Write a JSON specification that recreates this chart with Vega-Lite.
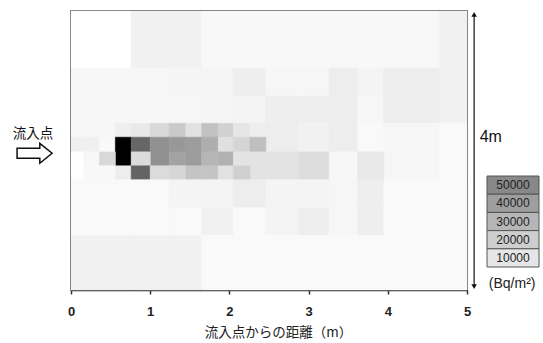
{
  "$schema": "https://vega.github.io/schema/vega-lite/v6.json",
  "width": 396,
  "height": 279,
  "autosize": {"type": "none"},
  "padding": {"left": 71, "top": 11, "right": 76, "bottom": 53},
  "background": "white",
  "config": {"view": {"stroke": "#222", "strokeWidth": 1.5}, "font": "Liberation Sans"},
  "layer": [
    {
      "layer": [
        {
          "data": {"values": [
            {"x1": 0, "x2": 0.76, "y1": 3.18, "y2": 4, "v": 0},
            {"x1": 0.76, "x2": 1.65, "y1": 3.18, "y2": 4, "v": 5400},
            {"x1": 1.65, "x2": 4.65, "y1": 3.18, "y2": 4, "v": 2700},
            {"x1": 4.65, "x2": 5, "y1": 2.39, "y2": 4, "v": 5400},
            {"x1": 0, "x2": 1.24, "y1": 2.39, "y2": 3.18, "v": 3200},
            {"x1": 1.24, "x2": 1.65, "y1": 2.78, "y2": 3.18, "v": 4100},
            {"x1": 1.24, "x2": 1.65, "y1": 2.39, "y2": 2.78, "v": 3600},
            {"x1": 1.65, "x2": 2.05, "y1": 2.78, "y2": 3.18, "v": 4100},
            {"x1": 1.65, "x2": 2.05, "y1": 2.39, "y2": 2.78, "v": 4100},
            {"x1": 2.05, "x2": 2.46, "y1": 2.78, "y2": 3.18, "v": 6800},
            {"x1": 2.05, "x2": 2.46, "y1": 2.39, "y2": 2.78, "v": 4500},
            {"x1": 2.46, "x2": 2.87, "y1": 2.78, "y2": 3.18, "v": 3600},
            {"x1": 2.46, "x2": 2.87, "y1": 2.39, "y2": 2.78, "v": 6800},
            {"x1": 2.87, "x2": 3.26, "y1": 2.78, "y2": 3.18, "v": 3600},
            {"x1": 2.87, "x2": 3.26, "y1": 2.39, "y2": 2.78, "v": 6800},
            {"x1": 3.26, "x2": 3.62, "y1": 2.78, "y2": 3.18, "v": 7200},
            {"x1": 3.26, "x2": 3.62, "y1": 2.39, "y2": 2.78, "v": 7200},
            {"x1": 3.62, "x2": 3.95, "y1": 2.78, "y2": 3.18, "v": 4500},
            {"x1": 3.62, "x2": 3.95, "y1": 2.39, "y2": 2.78, "v": 3600},
            {"x1": 3.95, "x2": 4.65, "y1": 2.39, "y2": 3.18, "v": 7200},
            {"x1": 0, "x2": 0.56, "y1": 2.19, "y2": 2.39, "v": 3200},
            {"x1": 0.56, "x2": 0.76, "y1": 2.19, "y2": 2.39, "v": 6800},
            {"x1": 0.76, "x2": 1.0, "y1": 2.19, "y2": 2.39, "v": 8600},
            {"x1": 1.0, "x2": 1.24, "y1": 2.19, "y2": 2.39, "v": 15800},
            {"x1": 1.24, "x2": 1.45, "y1": 2.19, "y2": 2.39, "v": 21600},
            {"x1": 1.45, "x2": 1.65, "y1": 2.19, "y2": 2.39, "v": 11700},
            {"x1": 1.65, "x2": 1.86, "y1": 2.19, "y2": 2.39, "v": 24800},
            {"x1": 1.86, "x2": 2.05, "y1": 2.19, "y2": 2.39, "v": 18500},
            {"x1": 2.05, "x2": 2.26, "y1": 2.19, "y2": 2.39, "v": 9900},
            {"x1": 2.26, "x2": 2.46, "y1": 2.19, "y2": 2.39, "v": 6800},
            {"x1": 2.46, "x2": 2.87, "y1": 1.98, "y2": 2.39, "v": 7200},
            {"x1": 2.87, "x2": 3.26, "y1": 1.98, "y2": 2.39, "v": 5400},
            {"x1": 3.26, "x2": 3.62, "y1": 1.98, "y2": 2.39, "v": 7200},
            {"x1": 3.62, "x2": 3.95, "y1": 1.98, "y2": 2.39, "v": 2300},
            {"x1": 3.95, "x2": 4.65, "y1": 1.58, "y2": 2.39, "v": 3600},
            {"x1": 4.65, "x2": 5, "y1": 1.58, "y2": 2.39, "v": 2300},
            {"x1": 0, "x2": 0.16, "y1": 1.98, "y2": 2.19, "v": 5900},
            {"x1": 0.16, "x2": 0.36, "y1": 1.98, "y2": 2.19, "v": 5900},
            {"x1": 0.36, "x2": 0.56, "y1": 1.98, "y2": 2.19, "v": 2300},
            {"x1": 0.56, "x2": 0.76, "y1": 1.78, "y2": 2.19, "v": 115000},
            {"x1": 0.76, "x2": 1.0, "y1": 1.98, "y2": 2.19, "v": 65400},
            {"x1": 1.0, "x2": 1.24, "y1": 1.78, "y2": 2.19, "v": 46000},
            {"x1": 1.24, "x2": 1.45, "y1": 1.98, "y2": 2.19, "v": 42800},
            {"x1": 1.45, "x2": 1.65, "y1": 1.98, "y2": 2.19, "v": 41000},
            {"x1": 1.65, "x2": 1.86, "y1": 1.98, "y2": 2.19, "v": 33400},
            {"x1": 1.86, "x2": 2.05, "y1": 1.98, "y2": 2.19, "v": 12600},
            {"x1": 2.05, "x2": 2.26, "y1": 1.98, "y2": 2.19, "v": 17100},
            {"x1": 2.26, "x2": 2.46, "y1": 1.98, "y2": 2.19, "v": 26200},
            {"x1": 0, "x2": 0.16, "y1": 1.58, "y2": 1.98, "v": 0},
            {"x1": 0.16, "x2": 0.36, "y1": 1.78, "y2": 1.98, "v": 3200},
            {"x1": 0.36, "x2": 0.56, "y1": 1.78, "y2": 1.98, "v": 15800},
            {"x1": 0.76, "x2": 1.0, "y1": 1.78, "y2": 1.98, "v": 14000},
            {"x1": 1.24, "x2": 1.45, "y1": 1.78, "y2": 1.98, "v": 38300},
            {"x1": 1.45, "x2": 1.65, "y1": 1.78, "y2": 1.98, "v": 41000},
            {"x1": 1.65, "x2": 1.86, "y1": 1.78, "y2": 1.98, "v": 29800},
            {"x1": 1.86, "x2": 2.05, "y1": 1.78, "y2": 1.98, "v": 32000},
            {"x1": 2.05, "x2": 2.26, "y1": 1.78, "y2": 1.98, "v": 11300},
            {"x1": 2.26, "x2": 2.87, "y1": 1.58, "y2": 1.98, "v": 11300},
            {"x1": 2.87, "x2": 3.26, "y1": 1.58, "y2": 1.98, "v": 13500},
            {"x1": 3.26, "x2": 3.62, "y1": 1.58, "y2": 1.98, "v": 3200},
            {"x1": 3.62, "x2": 3.95, "y1": 1.58, "y2": 1.98, "v": 8600},
            {"x1": 0.16, "x2": 0.56, "y1": 1.58, "y2": 1.78, "v": 2700},
            {"x1": 0.56, "x2": 0.76, "y1": 1.58, "y2": 1.78, "v": 7200},
            {"x1": 0.76, "x2": 1.0, "y1": 1.58, "y2": 1.78, "v": 66300},
            {"x1": 1.0, "x2": 1.24, "y1": 1.58, "y2": 1.78, "v": 14400},
            {"x1": 1.24, "x2": 1.45, "y1": 1.58, "y2": 1.78, "v": 16700},
            {"x1": 1.45, "x2": 1.65, "y1": 1.58, "y2": 1.78, "v": 23900},
            {"x1": 1.65, "x2": 1.86, "y1": 1.58, "y2": 1.78, "v": 23900},
            {"x1": 1.86, "x2": 2.05, "y1": 1.58, "y2": 1.78, "v": 12200},
            {"x1": 2.05, "x2": 2.26, "y1": 1.58, "y2": 1.78, "v": 18900},
            {"x1": 0, "x2": 1.24, "y1": 0.78, "y2": 1.58, "v": 2300},
            {"x1": 1.24, "x2": 1.65, "y1": 1.18, "y2": 1.58, "v": 4500},
            {"x1": 1.65, "x2": 2.05, "y1": 1.18, "y2": 1.58, "v": 4500},
            {"x1": 2.05, "x2": 2.46, "y1": 1.18, "y2": 1.58, "v": 7200},
            {"x1": 2.46, "x2": 2.87, "y1": 1.18, "y2": 1.58, "v": 4500},
            {"x1": 2.87, "x2": 3.26, "y1": 1.18, "y2": 1.58, "v": 4500},
            {"x1": 3.26, "x2": 3.62, "y1": 1.18, "y2": 1.58, "v": 3600},
            {"x1": 3.62, "x2": 3.95, "y1": 1.18, "y2": 1.58, "v": 6800},
            {"x1": 1.24, "x2": 1.65, "y1": 0.78, "y2": 1.18, "v": 2300},
            {"x1": 1.65, "x2": 2.05, "y1": 0.78, "y2": 1.18, "v": 5400},
            {"x1": 2.05, "x2": 2.46, "y1": 0.78, "y2": 1.18, "v": 2300},
            {"x1": 2.46, "x2": 2.87, "y1": 0.78, "y2": 1.18, "v": 4500},
            {"x1": 2.87, "x2": 3.26, "y1": 0.78, "y2": 1.18, "v": 6800},
            {"x1": 3.26, "x2": 3.62, "y1": 0.78, "y2": 1.18, "v": 3600},
            {"x1": 3.62, "x2": 3.95, "y1": 0.78, "y2": 1.18, "v": 6800},
            {"x1": 0, "x2": 0.76, "y1": 0, "y2": 0.78, "v": 5400},
            {"x1": 0.76, "x2": 1.65, "y1": 0, "y2": 0.78, "v": 5400},
            {"x1": 1.65, "x2": 3.95, "y1": 0, "y2": 0.78, "v": 2300},
            {"x1": 3.95, "x2": 5, "y1": 0, "y2": 1.58, "v": 2300}
          ]},
          "mark": {"type": "rect", "strokeWidth": 0.6},
          "encoding": {
            "x": {"field": "x1", "type": "quantitative",
                  "scale": {"domain": [0, 5], "nice": false, "zero": false},
                  "axis": {"values": [0, 1, 2, 3, 4, 5], "format": "d", "grid": false,
                           "title": "流入点からの距離（m）", "titleFont": "Noto Sans CJK JP",
                           "titleFontSize": 13.5, "titleFontWeight": "normal", "titleColor": "#222",
                           "titlePadding": 7, "titleX": 207, "labelFont": "Liberation Sans", "labelFontSize": 13,
                           "labelFontWeight": "bold", "labelColor": "#222", "labelPadding": 11,
                           "labelFlush": false, "tickSize": 4, "tickWidth": 1.5, "tickColor": "#333",
                           "domainColor": "#222", "domainWidth": 1.5}},
            "x2": {"field": "x2"},
            "y": {"field": "y1", "type": "quantitative",
                  "scale": {"domain": [0, 4], "nice": false, "zero": false}, "axis": null},
            "y2": {"field": "y2"},
            "fill": {"field": "v", "type": "quantitative",
                     "scale": {"domain": [0, 115000], "range": ["#ffffff", "#000000"]}, "legend": null},
            "stroke": {"field": "v", "type": "quantitative",
                       "scale": {"domain": [0, 115000], "range": ["#ffffff", "#000000"]}, "legend": null}
          }
        },
        {
          "data": {"values": [{}]},
          "mark": {"type": "rule", "clip": false, "strokeWidth": 1.2, "color": "#111"},
          "encoding": {"x": {"datum": 5.09}, "y": {"datum": 0.05}, "y2": {"datum": 3.95}}
        },
        {
          "data": {"values": [{}]},
          "mark": {"type": "point", "clip": false, "shape": "triangle-up", "filled": true, "size": 30, "color": "#111", "opacity": 1},
          "encoding": {"x": {"datum": 5.09}, "y": {"datum": 3.95}}
        },
        {
          "data": {"values": [{}]},
          "mark": {"type": "point", "clip": false, "shape": "triangle-down", "filled": true, "size": 30, "color": "#111", "opacity": 1},
          "encoding": {"x": {"datum": 5.09}, "y": {"datum": 0.05}}
        },
        {
          "data": {"values": [{}]},
          "mark": {"type": "text", "clip": false, "align": "left", "baseline": "middle", "fontSize": 16, "font": "Liberation Sans", "color": "#111"},
          "encoding": {"x": {"datum": 5.16}, "y": {"datum": 2.19}, "text": {"value": "4m"}}
        },
        {
          "data": {"values": [{}]},
          "mark": {"type": "text", "clip": false, "align": "center", "baseline": "middle", "fontSize": 13.5, "font": "Noto Sans CJK JP", "color": "#111"},
          "encoding": {"x": {"datum": -0.48}, "y": {"datum": 2.24}, "text": {"value": "流入点"}}
        },
        {
          "data": {"values": [{}]},
          "mark": {"type": "point", "clip": false, "shape": "M-1,-0.29L0.3,-0.29L0.3,-0.57L1,0L0.3,0.57L0.3,0.29L-1,0.29Z", "filled": false, "size": 1225, "stroke": "#111", "strokeWidth": 1.5, "opacity": 1},
          "encoding": {"x": {"datum": -0.46}, "y": {"datum": 1.96}}
        },
        {
          "data": {"values": [{}]},
          "mark": {"type": "text", "clip": false, "align": "center", "baseline": "middle", "fontSize": 14, "font": "Liberation Sans", "color": "#222"},
          "encoding": {"x": {"datum": 5.57}, "y": {"datum": 0.093}, "text": {"value": "(Bq/m²)"}}
        }
      ]
    },
    {
      "data": {"values": [{"lv": 50000}, {"lv": 40000}, {"lv": 30000}, {"lv": 20000}, {"lv": 10000}]},
      "encoding": {
        "y": {"field": "lv", "type": "ordinal", "sort": "descending",
              "scale": {"range": [165, 256], "paddingInner": 0, "paddingOuter": 0}, "axis": null}
      },
      "layer": [
        {
          "mark": {"type": "rect", "stroke": "#555", "strokeWidth": 1},
          "encoding": {
            "x": {"datum": 0, "type": "quantitative", "scale": {"domain": [0, 1], "range": [416, 468]}, "axis": null},
            "x2": {"datum": 1},
            "fill": {"field": "lv", "type": "quantitative",
                     "scale": {"domain": [0, 115000], "range": ["#ffffff", "#000000"]}, "legend": null}
          }
        },
        {
          "mark": {"type": "text", "fontSize": 12, "font": "Liberation Sans", "color": "#222"},
          "encoding": {
            "x": {"datum": 0.5, "type": "quantitative", "scale": {"domain": [0, 1], "range": [416, 468]}, "axis": null},
            "text": {"field": "lv", "type": "quantitative", "format": "d"}
          }
        }
      ]
    }
  ],
  "resolve": {"scale": {"x": "independent", "y": "independent"}}
}
